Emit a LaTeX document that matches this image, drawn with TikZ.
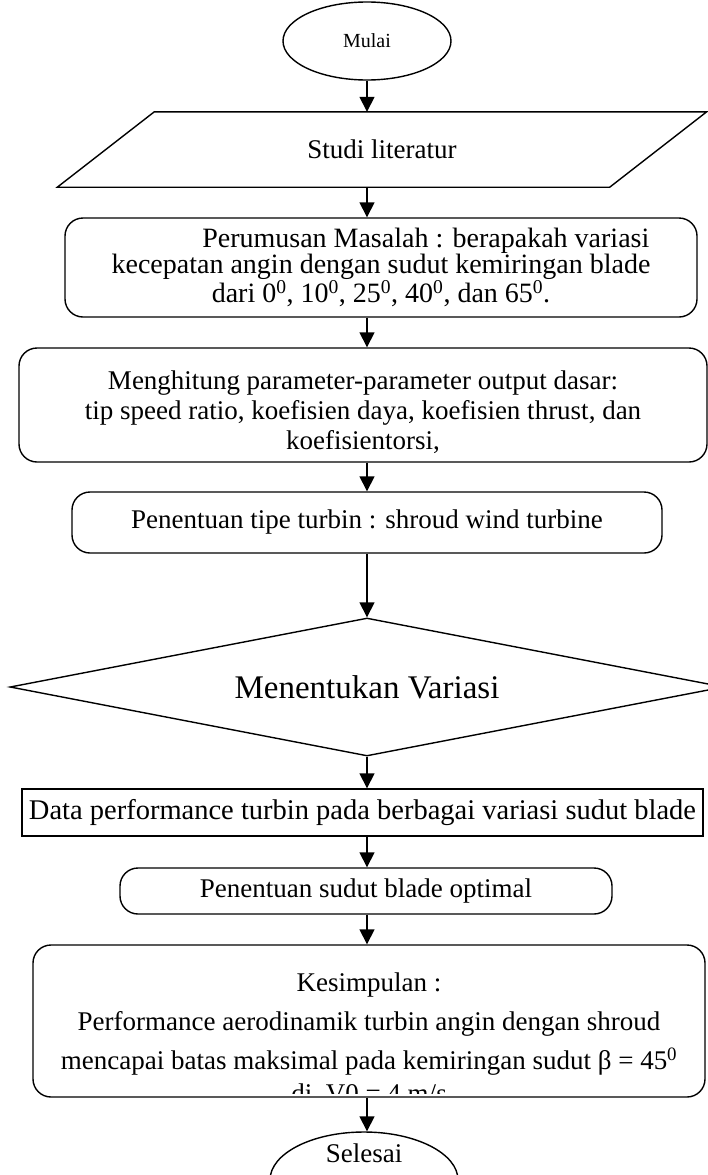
\documentclass[tikz,border=0pt]{standalone}
\usepackage{fontspec}
\setmainfont{Liberation Serif}
\usetikzlibrary{shapes.geometric,arrows.meta}

\begin{document}
\begin{tikzpicture}[x=1pt, y=-1pt,
    flow/.style={draw, line width=1.4pt, align=center, inner sep=0pt, font=\fontsize{27}{30}\selectfont},
    roundbox/.style={flow, rounded corners=18pt},
    panah/.style={line width=1.5pt, -{Triangle[length=15pt,width=15pt]}}]
    \useasboundingbox (0,0) rectangle (707,1175);

    % Start and literature
    \node[flow, ellipse, minimum width=168pt, minimum height=78pt, font=\fontsize{20}{24}\selectfont] (mulai) at (367,41) {Mulai};
    \node[align=center, minimum width=552pt, minimum height=75pt, inner sep=0pt, font=\fontsize{27}{30}\selectfont] (studi) at (382,149.5) {Studi literatur};
    \draw[line width=1.4pt] ([xshift=-48.5pt]studi.south west) -- ([xshift=-48.5pt]studi.south east)
        -- ([xshift=48.5pt]studi.north east) -- ([xshift=48.5pt]studi.north west) -- cycle;

    % Process steps
    \node[roundbox, minimum width=632pt, minimum height=99pt, font=\fontsize{28}{26}\selectfont] (rumus) at (381,267.5)
        {\hspace*{3.2em}Perumusan Masalah : berapakah variasi\\
         kecepatan angin dengan sudut kemiringan blade\\
         dari 0\textsuperscript{0}, 10\textsuperscript{0}, 25\textsuperscript{0}, 40\textsuperscript{0}, dan 65\textsuperscript{0}.};
    \node[roundbox, minimum width=688pt, minimum height=114pt,
          label={[align=center, font=\fontsize{27}{30}\selectfont, yshift=-7pt]center:{Menghitung parameter-parameter output dasar:\\
              tip speed ratio, koefisien daya, koefisien thrust, dan\\
              koefisientorsi,}}] (hitung) at (363,405) {};
    \node[roundbox, minimum width=590pt, minimum height=61pt] (tipe) at (367,522.5) {Penentuan tipe turbin : shroud wind turbine};

    % Decision
    \node[flow, diamond, aspect=5.17, minimum width=714pt, minimum height=138pt, font=\fontsize{33}{36}\selectfont] (variasi) at (367,687) {Menentukan Variasi};

    % Results
    \node[flow, minimum width=681pt, minimum height=47pt, font=\fontsize{28.5}{30}\selectfont] (data) at (362.5,812.5) {Data performance turbin pada berbagai variasi sudut blade};
    \node[roundbox, minimum width=492pt, minimum height=46pt] (optimal) at (366,891) {Penentuan sudut blade optimal};
    \node[roundbox, minimum width=672pt, minimum height=152pt,
          label={[align=center, font=\fontsize{27}{39}\selectfont, yshift=-3pt]center:{Kesimpulan :\\
              Performance aerodinamik turbin angin dengan shroud\\
              mencapai batas maksimal pada kemiringan sudut β = 45\textsuperscript{0}}}] (simpul) at (369,1021) {};
    \begin{scope}
        \clip (simpul.west |- 0,1060) rectangle (simpul.east |- 0,1093);
        \node[font=\fontsize{27}{30}\selectfont] (vnol) at (simpul.south |- 0,1093) {di\ \ V0 = 4 m/s};
    \end{scope}

    % End
    \node[flow, ellipse, minimum width=188pt, minimum height=96pt,
          label={[font=\fontsize{27}{30}\selectfont, yshift=27pt]center:Selesai}] (selesai) at (364,1180) {};

    % Arrows
    \coordinate (sumbu) at (367,0);
    \draw[panah] (sumbu |- mulai.south) -- (sumbu |- studi.north);
    \draw[panah] (sumbu |- studi.south) -- (sumbu |- rumus.north);
    \draw[panah] (sumbu |- rumus.south) -- (sumbu |- hitung.north);
    \draw[panah] (sumbu |- hitung.south) -- (sumbu |- tipe.north);
    \draw[panah] (sumbu |- tipe.south) -- (variasi.north);
    \draw[panah] (variasi.south) -- (sumbu |- data.north);
    \draw[panah] (sumbu |- data.south) -- (sumbu |- optimal.north);
    \draw[panah] (sumbu |- optimal.south) -- (sumbu |- simpul.north);
    \draw[panah] (sumbu |- simpul.south) -- (sumbu |- selesai.north);
\end{tikzpicture}
\end{document}
